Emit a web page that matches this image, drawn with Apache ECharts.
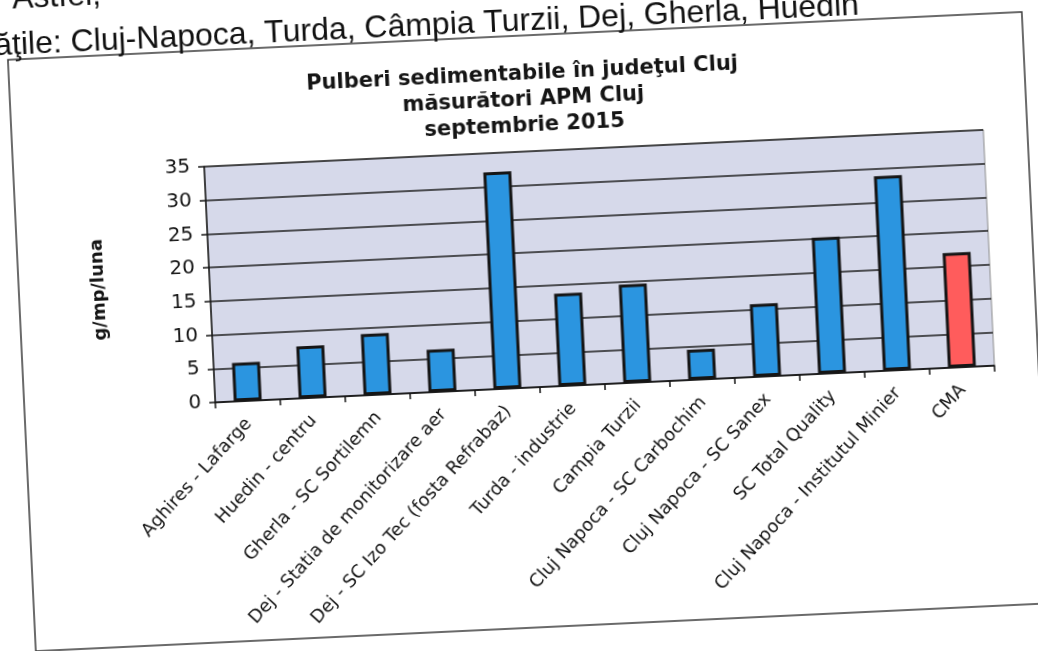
<!DOCTYPE html>
<html><head><meta charset="utf-8">
<script src="https://cdn.jsdelivr.net/npm/echarts@6/dist/echarts.min.js"></script>
<style>
html,body{margin:0;padding:0;background:#fff;overflow:hidden;width:1038px;height:651px;position:relative}
#c{position:absolute;left:-30px;top:-40px;width:1098px;height:731px;transform:rotate(-2.7deg);transform-origin:549px 365.5px;}
</style>
</head><body><div id="c"></div>
<script>
const titleLines = ['Pulberi sedimentabile în judeţul Cluj', 'măsurători APM Cluj', 'septembrie 2015'];
const yAxisName = 'g/mp/luna';
const categories = [
  'Aghires - Lafarge',
  'Huedin - centru',
  'Gherla - SC Sortilemn',
  'Dej - Statia de monitorizare aer',
  'Dej - SC Izo Tec (fosta Refrabaz)',
  'Turda - industrie',
  'Campia Turzii',
  'Cluj Napoca - SC Carbochim',
  'Cluj Napoca - SC Sanex',
  'SC Total Quality',
  'Cluj Napoca - Institutul Minier',
  'CMA'
];
const values = [5.7, 7.7, 9.1, 6.3, 32.2, 13.7, 14.6, 4.5, 10.8, 20.2, 28.9, 17];
const isLimit = [false, false, false, false, false, false, false, false, false, false, false, true];
const yMin = 0, yMax = 35, yStep = 5;
const docLine1 = 'Astfel,';
const docLine2 = 'ăţile: Cluj-Napoca, Turda, Câmpia Turzii, Dej, Gherla, Huedin';

const BLUE = '#2b95e0', RED = '#ff5c5c', INK = '#151515';
const FONT = 'DejaVu Sans';
const DOCFONT = '"Liberation Sans", sans-serif';

const chart = echarts.init(document.getElementById('c'), null, {renderer: 'canvas'});
chart.setOption({
  backgroundColor: '#ffffff',
  animation: false,
  title: {
    text: titleLines.join('\n'),
    left: 559, top: 97, textAlign: 'center',
    textStyle: {fontFamily: FONT, fontWeight: 'bold', fontSize: 21, lineHeight: 26, color: INK}
  },
  graphic: [
    {type: 'rect', shape: {x: 51, y: 76, width: 1015, height: 592}, silent: true, z: -1,
     style: {fill: 'none', stroke: '#3a3a3a', lineWidth: 1.5}},
    {type: 'text', x: 58, y: 32, silent: true,
     style: {text: docLine1, font: '32px ' + DOCFONT, fill: '#111', textVerticalAlign: 'bottom'}},
    {type: 'text', x: 38, y: 78, silent: true,
     style: {text: docLine2, font: '32px ' + DOCFONT, fill: '#111', textVerticalAlign: 'bottom'}}
  ],
  grid: {
    left: 242, right: 76, top: 192, bottom: 303,
    show: true, backgroundColor: '#d6d9ea', borderColor: '#8c8c8c', borderWidth: 1
  },
  xAxis: {
    type: 'category',
    data: categories,
    boundaryGap: true,
    axisLine: {lineStyle: {color: INK, width: 1.5}},
    axisTick: {show: true, length: 6, lineStyle: {color: INK, width: 1.5}},
    axisLabel: {rotate: 45, margin: 20, interval: 0, fontFamily: FONT, fontSize: 18, color: INK}
  },
  yAxis: {
    type: 'value', min: yMin, max: yMax, interval: yStep,
    name: yAxisName, nameLocation: 'middle', nameGap: 102, nameRotate: 90,
    nameTextStyle: {fontFamily: FONT, fontWeight: 'bold', fontSize: 18, color: INK},
    axisLine: {show: true, lineStyle: {color: INK, width: 1.5}},
    axisTick: {show: true, length: 6, lineStyle: {color: INK, width: 1.5}},
    axisLabel: {margin: 14, fontFamily: FONT, fontSize: 20, color: INK},
    splitLine: {show: true, lineStyle: {color: '#1e1e1e', width: 1.5}}
  },
  series: [{
    type: 'bar',
    barWidth: 28,
    data: values.map((v, i) => ({
      value: v,
      itemStyle: {color: isLimit[i] ? RED : BLUE, borderColor: INK, borderWidth: 3}
    }))
  }]
});
</script>
</body></html>
